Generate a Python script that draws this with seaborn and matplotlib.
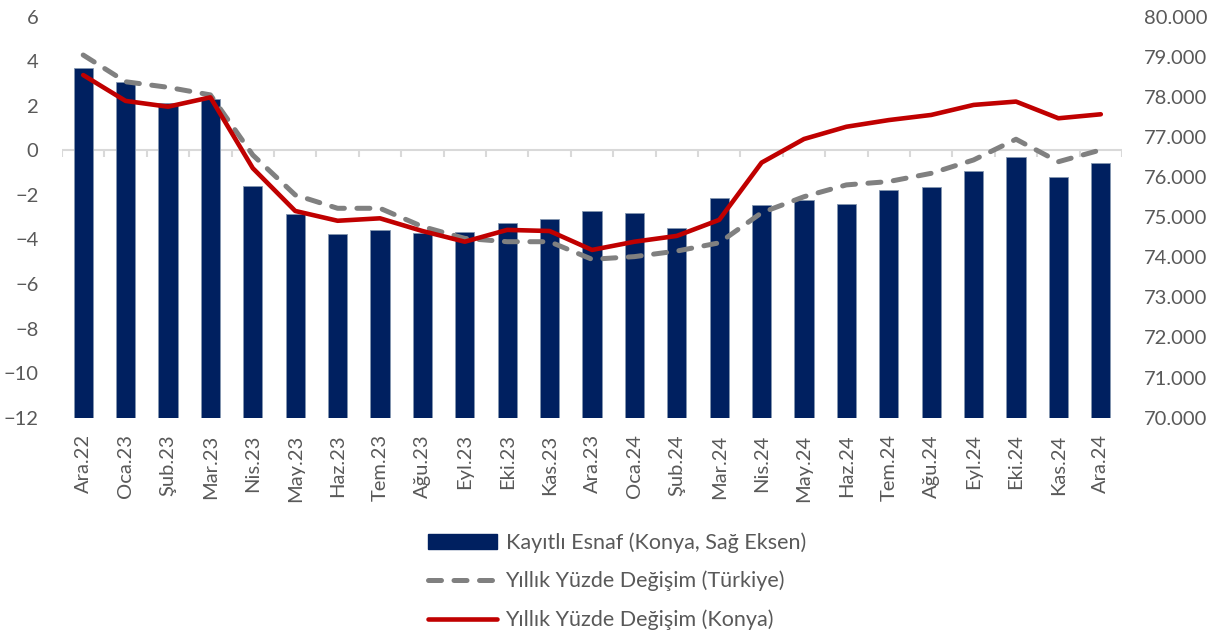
import matplotlib
matplotlib.use("Agg")
import matplotlib.pyplot as plt
import matplotlib.transforms as mtransforms
import numpy as np
import pandas as pd
import seaborn as sns

months = [
    "Ara.22", "Oca.23", "Şub.23", "Mar.23", "Nis.23", "May.23", "Haz.23",
    "Tem.23", "Ağu.23", "Eyl.23", "Eki.23", "Kas.23", "Ara.23", "Oca.24",
    "Şub.24", "Mar.24", "Nis.24", "May.24", "Haz.24", "Tem.24", "Ağu.24",
    "Eyl.24", "Eki.24", "Kas.24", "Ara.24",
]
esnaf_konya = [
    78725, 78370, 77850, 77960, 75775, 75085, 74570, 74685, 74600, 74625,
    74845, 74945, 75160, 75100, 74725, 75480, 75310, 75440, 75325, 75675,
    75745, 76160, 76490, 76010, 76350,
]
yillik_turkiye = [
    4.28, 3.08, 2.83, 2.49, -0.21, -2.00, -2.60, -2.60, -3.42, -3.95,
    -4.10, -4.10, -4.89, -4.77, -4.52, -4.15, -2.80, -2.08, -1.55, -1.40,
    -1.03, -0.43, 0.50, -0.51, 0.02,
]
yillik_konya = [
    3.38, 2.22, 1.96, 2.38, -0.80, -2.72, -3.16, -3.05, -3.62, -4.10,
    -3.57, -3.62, -4.47, -4.10, -3.84, -3.12, -0.55, 0.51, 1.06, 1.36,
    1.59, 2.04, 2.19, 1.44, 1.62,
]

NAVY = "#002060"
RED = "#C00000"
GREY = "#808080"
TXT = "#595959"

sns.set_theme(style="white")
plt.rcParams["font.family"] = ["Lato", "DejaVu Sans"]

df = pd.DataFrame({
    "ay": months,
    "x": np.arange(len(months)),
    "esnaf": esnaf_konya,
    "turkiye": yillik_turkiye,
    "konya": yillik_konya,
})

fig = plt.figure(figsize=(12.18, 6.36), dpi=100)
ax_bar = fig.add_axes([62 / 1218, 1 - 417.7 / 636, 1060 / 1218, 401 / 636])
ax_line = ax_bar.twinx()

# bars (right axis)
sns.barplot(data=df, x="ay", y="esnaf", ax=ax_bar, color=NAVY, width=0.45,
            edgecolor="#8497b0", linewidth=0.6, saturation=1, zorder=3)
ax_bar.set_ylim(70000, 80000)
ax_bar.set_yticks(np.arange(70000, 80001, 1000))
ax_bar.set_yticklabels([f"{v:,.0f}".replace(",", ".") for v in range(70000, 80001, 1000)])
ax_bar.yaxis.tick_right()
ax_bar.yaxis.set_label_position("right")
ax_bar.set_xlim(-0.5, len(months) - 0.5)

# zero line + category ticks, drawn behind the bars
n = len(months)
trans = mtransforms.blended_transform_factory(ax_bar.transData, ax_line.transData)
ax_bar.plot([-0.5, n - 0.5], [0, 0], color="#d9d9d9", lw=1.5, transform=trans, zorder=1)
ax_bar.vlines(np.arange(n + 1) - 0.5, -0.32, 0, color="#d9d9d9", lw=1.5,
              transform=trans, zorder=1)

# lines (left axis)
sns.lineplot(data=df, x="x", y="turkiye", ax=ax_line, color=GREY, lw=3.6,
             linestyle=(0, (2.6, 2.5)), dash_capstyle="round",
             label="Yıllık Yüzde Değişim (Türkiye)", legend=False)
sns.lineplot(data=df, x="x", y="konya", ax=ax_line, color=RED, lw=3.3,
             label="Yıllık Yüzde Değişim (Konya)", legend=False)
ax_line.set_ylim(-12, 6)
ax_line.set_yticks(np.arange(-12, 7, 2))
ax_line.yaxis.tick_left()
ax_line.yaxis.set_label_position("left")
ax_line.set_xlim(-0.5, n - 0.5)

for a in (ax_bar, ax_line):
    for s in a.spines.values():
        s.set_visible(False)
    a.set_xlabel("")
    a.set_ylabel("")
    a.tick_params(axis="both", length=0, labelsize=14.5, colors=TXT)

ax_bar.tick_params(axis="y", pad=16)
ax_line.tick_params(axis="y", pad=17)
ax_bar.tick_params(axis="x", pad=12)
ax_bar.set_xticks(df["x"])
ax_bar.set_xticklabels(months, rotation=90)

handles = [
    plt.Rectangle((0, 0), 1, 1, color=NAVY),
    ax_line.lines[0],
    ax_line.lines[1],
]
labels = [
    "Kayıtlı Esnaf (Konya, Sağ Eksen)",
    "Yıllık Yüzde Değişim (Türkiye)",
    "Yıllık Yüzde Değişim (Konya)",
]
leg = fig.legend(handles, labels, loc="upper left", bbox_to_anchor=(428 / 1218, 1 - 532 / 636),
                 frameon=False, fontsize=15.5, handlelength=3.2, handletextpad=0.4,
                 labelspacing=0.85, borderpad=0, borderaxespad=0)
for t in leg.get_texts():
    t.set_color(TXT)

fig.savefig("out.png", dpi=100)
